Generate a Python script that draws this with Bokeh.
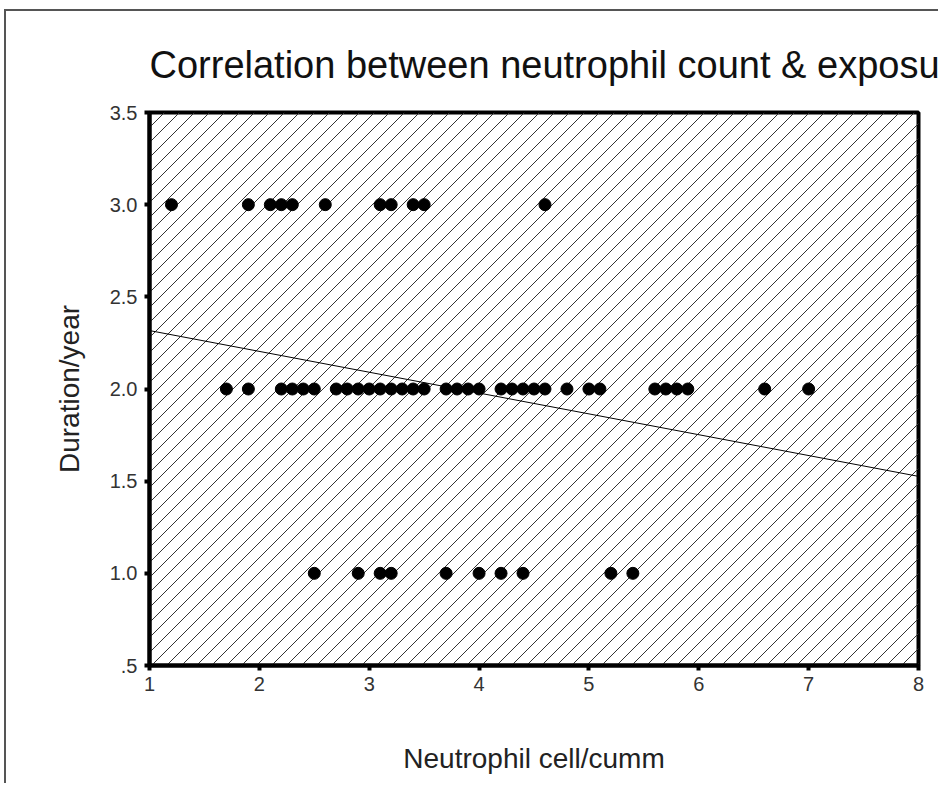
import numpy as np
from bokeh.plotting import figure
from bokeh.models import Range1d, FixedTicker
from bokeh.embed import file_html
from bokeh.resources import INLINE

# ---- data ----
x_dur3 = [1.2, 1.9, 2.1, 2.2, 2.3, 2.6, 3.1, 3.2, 3.4, 3.5, 4.6]
x_dur2 = [1.7, 1.9, 2.2, 2.3, 2.4, 2.5, 2.7, 2.8, 2.9, 3.0, 3.1, 3.2, 3.3, 3.4, 3.5,
          3.7, 3.8, 3.9, 4.0, 4.2, 4.3, 4.4, 4.5, 4.6, 4.8, 5.0, 5.1,
          5.6, 5.7, 5.8, 5.9, 6.6, 7.0]
x_dur1 = [2.5, 2.9, 3.1, 3.2, 3.7, 4.0, 4.2, 4.4, 5.2, 5.4]
neutrophil = x_dur3 + x_dur2 + x_dur1
duration = [3.0] * len(x_dur3) + [2.0] * len(x_dur2) + [1.0] * len(x_dur1)

# fitted line
fit_intercept = 2.43
fit_slope = -0.113
fit_x = [1, 8]

x_ticks = [1, 2, 3, 4, 5, 6, 7, 8]
y_ticks = [0.5, 1.0, 1.5, 2.0, 2.5, 3.0, 3.5]
y_tick_labels = [".5", "1.0", "1.5", "2.0", "2.5", "3.0", "3.5"]

title_text = "Correlation between neutrophil count & exposure duration"

FONT = "Liberation Sans"
X0, X1, Y0, Y1 = 1, 8, 0.5, 3.5
FRAME_W, FRAME_H = 769, 553
BL, BT = 143, 101
CW, CH = 934, 774

p = figure(width=CW, height=CH, output_backend="svg", toolbar_location=None,
           x_range=Range1d(X0, X1), y_range=Range1d(Y0, Y1),
           min_border_left=BL, min_border_right=CW - BL - FRAME_W,
           min_border_top=BT, min_border_bottom=CH - BT - FRAME_H)
p.styles = {"border-left": "2px solid #555555", "border-top": "2px solid #555555",
            "margin-left": "4px", "margin-top": "9px"}
p.background_fill_color = "white"
p.border_fill_color = "white"
p.grid.visible = False
p.outline_line_color = "black"
p.outline_line_width = 4

# title
p.title.text = title_text
p.title.text_font = FONT
p.title.text_font_size = "38px"
p.title.text_font_style = "normal"
p.title.text_color = "#111111"
p.title.align = "left"
p.title.standoff = 54

# 45-degree hatching of the plot area (decoration, clipped by the frame)
px_x = FRAME_W / (X1 - X0)
px_y = FRAME_H / (Y1 - Y0)
step = 15 / px_x
run = (Y1 - Y0) * px_y / px_x
starts = np.arange(X0 - run, X1 + step, step)
p.multi_line([[s, s + run] for s in starts], [[Y0, Y1] for _ in starts],
             line_color="#333333", line_width=1)

fx = np.array(fit_x, dtype=float)
p.line(fx, fit_intercept + fit_slope * fx, line_color="black", line_width=1)

p.scatter(neutrophil, duration, size=12, color="black")

for ax in (p.xaxis[0], p.yaxis[0]):
    ax.axis_line_width = 4
    ax.major_tick_line_width = 4
    ax.major_tick_out = 5
    ax.major_tick_in = 0
    ax.minor_tick_line_color = None
    ax.major_label_text_font = FONT
    ax.major_label_text_font_size = "20px"
    ax.major_label_text_color = "#333333"
    ax.axis_label_text_font = FONT
    ax.axis_label_text_font_size = "28px"
    ax.axis_label_text_font_style = "normal"
    ax.axis_label_text_color = "#222222"

p.xaxis.major_label_standoff = 6
p.yaxis.major_label_standoff = 7
p.xaxis.ticker = FixedTicker(ticks=x_ticks)
p.yaxis.ticker = FixedTicker(ticks=y_ticks)
p.yaxis.major_label_overrides = {t: l for t, l in zip(y_ticks, y_tick_labels)}
p.xaxis.axis_label = "Neutrophil cell/cumm"
p.yaxis.axis_label = "Duration/year"
p.xaxis.axis_label_standoff = 49
p.yaxis.axis_label_standoff = 22

open("out.html", "w").write(file_html(p, INLINE))
